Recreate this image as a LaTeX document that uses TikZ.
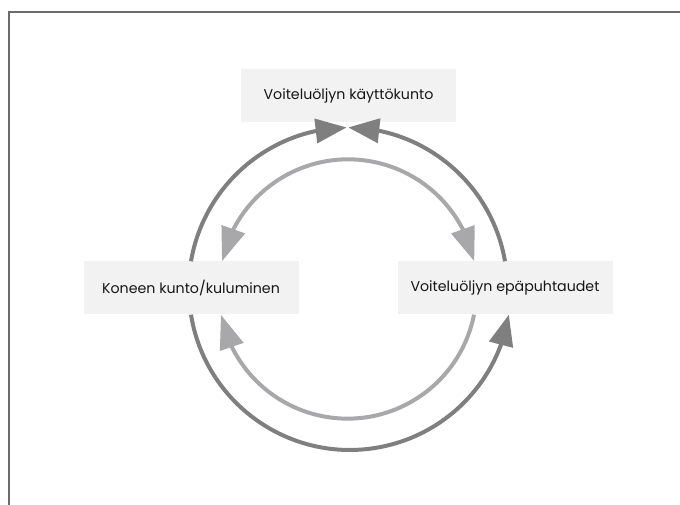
\documentclass[tikz,border=0pt]{standalone}
\usepackage{fontspec}
\setmainfont{Poppins}
\usetikzlibrary{arrows.meta,bending}
\definecolor{LoopDark}{HTML}{7F7F80}
\definecolor{LoopLight}{HTML}{A8A8AA}
\definecolor{BoxFill}{HTML}{F2F2F2}
\definecolor{FrameInk}{HTML}{6B6B6B}
\definecolor{LabelInk}{HTML}{161616}

\begin{document}
\begin{tikzpicture}[
  x=1pt,y=1pt,
  every node/.style={font=\fontsize{14.2}{16}\selectfont,text=LabelInk},
  statebox/.style={fill=BoxFill,minimum width=215pt,minimum height=53pt,inner sep=0pt},
  outerloop/.style={color=LoopDark,line width=4pt,-{Triangle[length=31pt,width=24pt]}},
  innerloop/.style={color=LoopLight,line width=4pt,-{Triangle[length=34pt,width=24pt]}},
  twoway/.style={innerloop,{Triangle[length=34pt,width=24pt]}-{Triangle[length=34pt,width=24pt]}}
]
\useasboundingbox (0,0) rectangle (680,505);
% page frame, open at the right and bottom
\draw[FrameInk,line width=1.3pt] (9,0) -- (9,493) -- (680,493);
% the three states of the loop
\node[statebox] (oil) at (348.5,409.5) {Voiteluöljyn käyttökunto};
\node[statebox] (wear) at (191,217) {Koneen kunto/kuluminen};
\node[statebox] (dirt) at (505,217) {Voiteluöljyn epäpuhtaudet};
% outer ring, radius 161 round the middle of the loop
\draw[outerloop] (wear.north) arc[start angle=170.3,end angle=91.1,radius=161];
\draw[outerloop] (dirt.north) arc[start angle=9.7,end angle=89.3,radius=161];
\draw[outerloop] (wear.south) arc[start angle=189.2,end angle=350.8,radius=161];
% inner ring, radius 129
\draw[twoway] ([xshift=31pt]wear.north) arc[start angle=167.9,end angle=12.1,radius=129];
\draw[innerloop] ([xshift=-31pt]dirt.south) arc[start angle=-11.2,end angle=-168.8,radius=129];
\end{tikzpicture}
\end{document}
